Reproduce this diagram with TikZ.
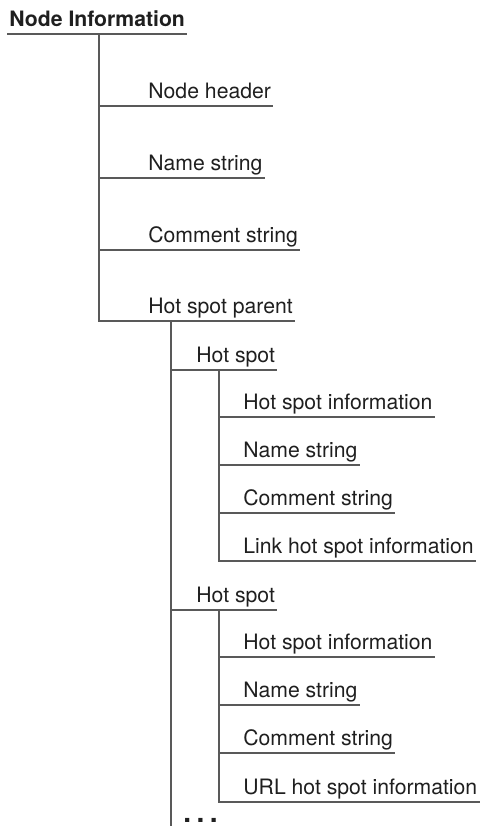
\documentclass[tikz,border=0pt]{standalone}
\usepackage{fontspec}
\setmainfont{TeX Gyre Heros}
\usetikzlibrary{positioning}

\begin{document}
\begin{tikzpicture}[
  x=0.5pt,y=-0.5pt,
  entry/.style={anchor=south west,inner xsep=1pt,inner ysep=0pt,text depth=3.7pt,font=\fontsize{10.6pt}{12pt}\selectfont,text=black!88},
  heading/.style={entry,font=\fontsize{10.6pt}{12pt}\selectfont\bfseries},
  branch/.style={line width=0.8pt,black!65}
]
\useasboundingbox (0,0) rectangle (482,828);
\node[heading] (title) at (7,34) {Node Information};
\draw[branch] (title.south west) -- (title.south east);
\coordinate (b1) at (99,34);
\node[entry] (nodehdr) at (146,106) {Node header};
\node[entry] (namestr) at (146,178) {Name string};
\node[entry] (commentstr) at (146,250) {Comment string};
\node[entry] (hsparent) at (146,321) {Hot spot parent};
\draw[branch] (b1 |- nodehdr.south) -- (nodehdr.south east);
\draw[branch] (b1 |- namestr.south) -- (namestr.south east);
\draw[branch] (b1 |- commentstr.south) -- (commentstr.south east);
\draw[branch] (b1) |- (hsparent.south east);
\coordinate (b2) at (171,321);
\coordinate (b2end) at (171,826);
\draw[branch] (b2) -- (b2end);
\node[entry] (hotspotA) at (194,370) {Hot spot};
\draw[branch] (b2 |- hotspotA.south) -- (hotspotA.south east);
\coordinate (b3) at (219,370);
\node[entry] (infoA) at (241,417) {Hot spot information};
\node[entry] (nameA) at (241,465) {Name string};
\node[entry] (commentA) at (241,513) {Comment string};
\node[entry] (linkA) at (241,561) {Link hot spot information};
\draw[branch] (b3 |- infoA.south) -- (infoA.south east);
\draw[branch] (b3 |- nameA.south) -- (nameA.south east);
\draw[branch] (b3 |- commentA.south) -- (commentA.south east);
\draw[branch] (b3) |- (linkA.south east);
\node[entry] (hotspotB) at (194,610) {Hot spot};
\draw[branch] (b2 |- hotspotB.south) -- (hotspotB.south east);
\coordinate (b4) at (219,610);
\node[entry] (infoB) at (241,657) {Hot spot information};
\node[entry] (nameB) at (241,705) {Name string};
\node[entry] (commentB) at (241,753) {Comment string};
\node[entry] (urlB) at (241,802) {URL hot spot information};
\draw[branch] (b4 |- infoB.south) -- (infoB.south east);
\draw[branch] (b4 |- nameB.south) -- (nameB.south east);
\draw[branch] (b4 |- commentB.south) -- (commentB.south east);
\draw[branch] (b4) |- (urlB.south east);
\node[anchor=base west,inner sep=0pt,text depth=0pt,font=\fontsize{14pt}{14pt}\selectfont\bfseries,text=black!88] (more) at (183,822) {.\hspace{2.75pt}.\hspace{2.75pt}.};
\end{tikzpicture}
\end{document}
